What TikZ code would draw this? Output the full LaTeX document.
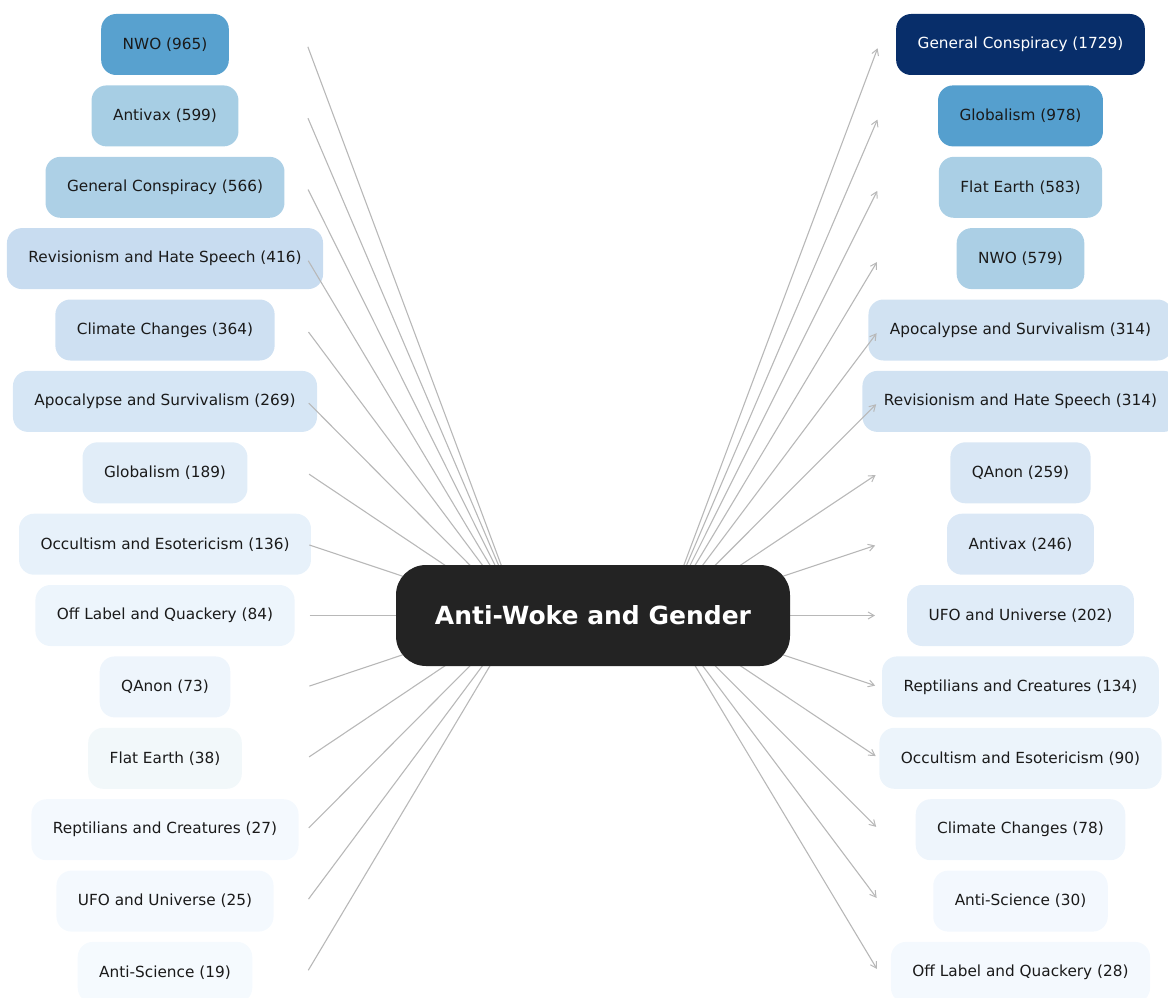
\documentclass[tikz,border=0pt]{standalone}
\usepackage{fontspec}
\setmainfont{DejaVu Sans}
\usetikzlibrary{arrows.meta}
\definecolor{txtdark}{RGB}{26,26,26}
\definecolor{edgegray}{RGB}{184,184,184}
\definecolor{hubfill}{RGB}{35,35,35}
% left colours
\definecolor{cl1}{RGB}{88,161,207}
\definecolor{cl2}{RGB}{167,206,228}
\definecolor{cl3}{RGB}{173,208,230}
\definecolor{cl4}{RGB}{200,220,240}
\definecolor{cl5}{RGB}{206,224,242}
\definecolor{cl6}{RGB}{214,230,245}
\definecolor{cl7}{RGB}{225,237,248}
\definecolor{cl8}{RGB}{231,241,250}
\definecolor{cl9}{RGB}{237,245,252}
\definecolor{cl10}{RGB}{238,245,252}
\definecolor{cl11}{RGB}{242,248,250}
\definecolor{cl12}{RGB}{244,249,254}
\definecolor{cl13}{RGB}{244,249,254}
\definecolor{cl14}{RGB}{245,250,254}
% right colours
\definecolor{cr1}{RGB}{8,46,106}
\definecolor{cr2}{RGB}{85,159,206}
\definecolor{cr3}{RGB}{170,207,229}
\definecolor{cr4}{RGB}{171,207,229}
\definecolor{cr5}{RGB}{209,226,242}
\definecolor{cr6}{RGB}{209,226,242}
\definecolor{cr7}{RGB}{217,231,245}
\definecolor{cr8}{RGB}{219,232,246}
\definecolor{cr9}{RGB}{224,236,248}
\definecolor{cr10}{RGB}{231,241,250}
\definecolor{cr11}{RGB}{236,244,251}
\definecolor{cr12}{RGB}{238,245,252}
\definecolor{cr13}{RGB}{243,248,254}
\definecolor{cr14}{RGB}{244,249,254}
\begin{document}
\begin{tikzpicture}[x=1pt,y=-1pt,
  catbox/.style={rounded corners=15pt, minimum height=61pt, inner xsep=21.5pt,
    inner ysep=0pt, font=\fontsize{15.3}{18}\selectfont, text=txtdark, anchor=center},
  hubbox/.style={rounded corners=30pt, minimum width=394pt, minimum height=101pt,
    fill=hubfill, text=white, font=\fontsize{25}{30}\selectfont\bfseries},
  edge/.style={draw=edgegray, line width=1.1pt},
  arrowedge/.style={edge, -{Straight Barb[length=6pt,width=7pt,line width=1pt]}, shorten >=4pt}
]
\useasboundingbox (0,0) rectangle (1168,998);
\clip (0,0) rectangle (1168,998);
% left column
\node[catbox, fill=cl1] (l1) at (165,44.5) {NWO (965)};
\node[catbox, fill=cl2] (l2) at (165,115.9) {Antivax (599)};
\node[catbox, fill=cl3] (l3) at (165,187.3) {General Conspiracy (566)};
\node[catbox, fill=cl4] (l4) at (165,258.6) {Revisionism and Hate Speech (416)};
\node[catbox, fill=cl5] (l5) at (165,330.0) {Climate Changes (364)};
\node[catbox, fill=cl6] (l6) at (165,401.4) {Apocalypse and Survivalism (269)};
\node[catbox, fill=cl7] (l7) at (165,472.8) {Globalism (189)};
\node[catbox, fill=cl8] (l8) at (165,544.2) {Occultism and Esotericism (136)};
\node[catbox, fill=cl9] (l9) at (165,615.5) {Off Label and Quackery (84)};
\node[catbox, fill=cl10] (l10) at (165,686.9) {QAnon (73)};
\node[catbox, fill=cl11] (l11) at (165,758.3) {Flat Earth (38)};
\node[catbox, fill=cl12] (l12) at (165,829.7) {Reptilians and Creatures (27)};
\node[catbox, fill=cl13] (l13) at (165,901.1) {UFO and Universe (25)};
\node[catbox, fill=cl14] (l14) at (165,972.4) {Anti-Science (19)};
% right column
\node[catbox, fill=cr1, text=white] (r1) at (1020.5,44.5) {General Conspiracy (1729)};
\node[catbox, fill=cr2] (r2) at (1020.5,115.9) {Globalism (978)};
\node[catbox, fill=cr3] (r3) at (1020.5,187.3) {Flat Earth (583)};
\node[catbox, fill=cr4] (r4) at (1020.5,258.6) {NWO (579)};
\node[catbox, fill=cr5] (r5) at (1020.5,330.0) {Apocalypse and Survivalism (314)};
\node[catbox, fill=cr6] (r6) at (1020.5,401.4) {Revisionism and Hate Speech (314)};
\node[catbox, fill=cr7] (r7) at (1020.5,472.8) {QAnon (259)};
\node[catbox, fill=cr8] (r8) at (1020.5,544.2) {Antivax (246)};
\node[catbox, fill=cr9] (r9) at (1020.5,615.5) {UFO and Universe (202)};
\node[catbox, fill=cr10] (r10) at (1020.5,686.9) {Reptilians and Creatures (134)};
\node[catbox, fill=cr11] (r11) at (1020.5,758.3) {Occultism and Esotericism (90)};
\node[catbox, fill=cr12] (r12) at (1020.5,829.7) {Climate Changes (78)};
\node[catbox, fill=cr13] (r13) at (1020.5,901.1) {Anti-Science (30)};
\node[catbox, fill=cr14] (r14) at (1020.5,972.4) {Off Label and Quackery (28)};
% connector anchors
\coordinate (cl) at (520,615.5);
\coordinate (cr) at (665,615.5);
\foreach \i/\y in {1/44.5,2/115.9,3/187.3,4/258.6,5/330.0,6/401.4,7/472.8,8/544.2,9/615.5,10/686.9,11/758.3,12/829.7,13/901.1,14/972.4}{
  \coordinate (la\i) at (307,\y);
  \coordinate (ra\i) at (879,\y);
}
\foreach \i in {1,...,14}{
  \draw[edge, shorten <=2.5pt] (la\i) -- (cl);
  \draw[arrowedge] (cr) -- (ra\i);
}
% hub on top
\node[hubbox] (hub) at (593,615.5) {Anti-Woke and Gender};
\end{tikzpicture}
\end{document}
